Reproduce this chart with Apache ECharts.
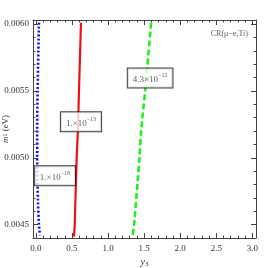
<!DOCTYPE html>
<html><head><meta charset="utf-8">
<script src="https://cdn.jsdelivr.net/npm/echarts@6/dist/echarts.min.js"></script>
<style>html,body{margin:0;padding:0;background:#fff}#c{width:273px;height:268px}</style>
</head><body><div id="c"></div>
<script>
// Curve data: [y3, m1]
var blueY3 = [0.042, 0.024, 0.018, 0.018, 0.028, 0.042, 0.056];
var blueM1 = [0.00601, 0.0055, 0.00521, 0.0050, 0.00469, 0.0045, 0.00442];
var redY3 = [0.625, 0.597, 0.583, 0.565, 0.538, 0.528];
var redM1 = [0.00601, 0.0055, 0.00521, 0.0050, 0.0045, 0.00441];
var greenY3 = [1.597, 1.514, 1.46, 1.435, 1.361, 1.338];
var greenM1 = [0.00601, 0.0055, 0.00521, 0.0050, 0.0045, 0.00441];
// Label anchors
var labelTexts = ['{b|1.×10}{s|−18}', '{b|1.×10}{s|−13}', '{b|4.3×10}{s|−12}'];
var labelY3 = [0.264, 0.625, 1.583];
var labelM1 = [0.004866, 0.005269, 0.005597];
var titleText = 'CR(μ−e,Ti)';
var titlePos = [2.68, 0.005925];
// Ticks
var xMajor = [0, 0.5, 1.0, 1.5, 2.0, 2.5, 3.0];
var xMinor = [0.1,0.2,0.3,0.4,0.6,0.7,0.8,0.9,1.1,1.2,1.3,1.4,1.6,1.7,1.8,1.9,2.1,2.2,2.3,2.4,2.6,2.7,2.8,2.9];
var yMajor = [0.0045, 0.0050, 0.0055, 0.0060];
var yMinor = [0.0046,0.0047,0.0048,0.0049,0.0051,0.0052,0.0053,0.0054,0.0056,0.0057,0.0058,0.0059];
var xMin = -0.04, xMax = 3.05, yMin = 0.0044, yMax = 0.00603;

function zip(a, b) { return a.map(function (v, i) { return [v, b[i]]; }); }
var frame = '#444';
var font = 'Liberation Serif';
function xa(pos, vals, len, labels, line) {
  return {
    type: 'value', position: pos, min: xMin, max: xMax, splitLine: {show: false},
    axisLine: {show: line, onZero: false, lineStyle: {color: frame, width: 1}},
    axisTick: {show: true, inside: true, length: len, customValues: vals, lineStyle: {color: frame}},
    axisLabel: labels ? {show: true, customValues: vals, fontFamily: font, fontSize: 9, color: '#333', margin: 6,
      formatter: function (v) { return (+v).toFixed(1); }} : {show: false},
    name: labels ? '{i|y}{s|3}' : '', nameLocation: 'middle', nameGap: 19, nameMoveOverlap: false,
    nameTextStyle: {rich: {i: {fontFamily: font, fontStyle: 'italic', fontSize: 10, color: '#333'},
      s: {fontFamily: font, fontSize: 7, color: '#333', verticalAlign: 'bottom', padding: [4, 0, 0, 0]}}}
  };
}
function ya(pos, vals, len, labels, line) {
  return {
    type: 'value', position: pos, min: yMin, max: yMax, splitLine: {show: false},
    axisLine: {show: line, onZero: false, lineStyle: {color: frame, width: 1}},
    axisTick: {show: true, inside: true, length: len, customValues: vals, lineStyle: {color: frame}},
    axisLabel: labels ? {show: true, customValues: vals, fontFamily: font, fontSize: 9, color: '#333', margin: 4,
      formatter: function (v) { return (+v).toFixed(4); }} : {show: false},
    name: labels ? '{i|m}{s|1}{b| (eV)}' : '', nameLocation: 'middle', nameGap: 23, nameRotate: 90,
    nameMoveOverlap: false,
    nameTextStyle: {rich: {i: {fontFamily: font, fontStyle: 'italic', fontSize: 9, color: '#333'},
      s: {fontFamily: font, fontSize: 6, color: '#333'},
      b: {fontFamily: font, fontSize: 9, color: '#333'}}}
  };
}
var chart = echarts.init(document.getElementById('c'), null, {renderer: 'canvas'});
chart.setOption({
  animation: false,
  backgroundColor: '#fff',
  grid: {left: 33, top: 20, right: 17, bottom: 30, containLabel: false, outerBoundsMode: 'none'},
  xAxis: [xa('bottom', xMajor, 5, true, true), xa('bottom', xMinor, 2.5, false, false),
          xa('top', xMajor, 5, false, true), xa('top', xMinor, 2.5, false, false)],
  yAxis: [ya('left', yMajor, 5, true, true), ya('left', yMinor, 2.5, false, false),
          ya('right', yMajor, 5, false, true), ya('right', yMinor, 2.5, false, false)],
  series: [
    {type: 'line', data: zip(blueY3, blueM1), showSymbol: false, smooth: 0.3, z: 2,
      lineStyle: {color: '#1010ee', width: 2.6, type: [2, 2], cap: 'butt'}},
    {type: 'line', data: zip(redY3, redM1), showSymbol: false, smooth: 0.3, z: 2,
      lineStyle: {color: '#ee1111', width: 2.2}},
    {type: 'line', data: zip(greenY3, greenM1), showSymbol: false, smooth: 0.3, z: 2,
      lineStyle: {color: '#22ee22', width: 2.6, type: [6, 3], cap: 'butt'}},
    {type: 'scatter', symbolSize: 0, z: 10,
      data: labelTexts.map(function (t, i) { return {value: [labelY3[i], labelM1[i]], text: t}; }),
      label: {show: true, position: 'inside',
        formatter: function (p) { return p.data.text; },
        backgroundColor: '#fff', borderColor: '#111', borderWidth: 1, padding: [4, 5, 3, 5],
        rich: {b: {fontFamily: font, fontSize: 9, color: '#333', lineHeight: 12, verticalAlign: 'bottom'},
               s: {fontFamily: font, fontSize: 6, color: '#333', lineHeight: 12, verticalAlign: 'top'}}}},
    {type: 'scatter', symbolSize: 0, z: 10,
      data: [titlePos],
      label: {show: true, position: 'inside', formatter: titleText,
        fontFamily: font, fontSize: 8, color: '#333'}}
  ]
});
</script></body></html>
